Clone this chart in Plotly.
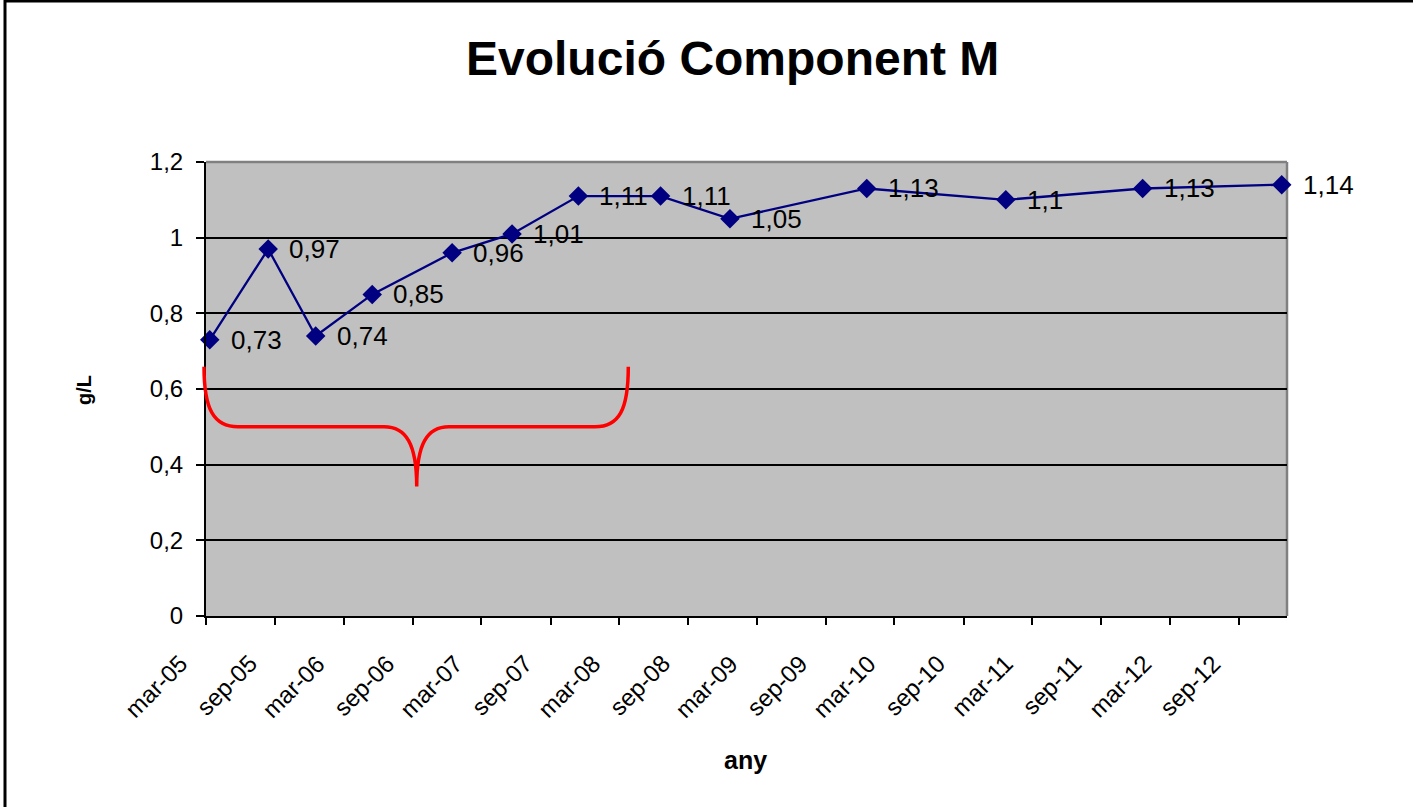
import plotly.graph_objects as go

# ---- data ----
dates = ["2005-03-11", "2005-08-13", "2005-12-17", "2006-05-16", "2006-12-14",
         "2007-05-22", "2007-11-14", "2008-06-19", "2008-12-20", "2009-12-18",
         "2010-12-22", "2011-12-20", "2012-12-23"]
values = [0.73, 0.97, 0.74, 0.85, 0.96, 1.01, 1.11, 1.11, 1.05, 1.13, 1.10, 1.13, 1.14]

tick_dates = ["2005-03-01", "2005-09-01", "2006-03-01", "2006-09-01", "2007-03-01",
              "2007-09-01", "2008-03-01", "2008-09-01", "2009-03-01", "2009-09-01",
              "2010-03-01", "2010-09-01", "2011-03-01", "2011-09-01", "2012-03-01",
              "2012-09-01"]
tick_labels = ["mar-05", "sep-05", "mar-06", "sep-06", "mar-07", "sep-07", "mar-08",
               "sep-08", "mar-09", "sep-09", "mar-10", "sep-10", "mar-11", "sep-11",
               "mar-12", "sep-12"]

y_ticks = [0, 0.2, 0.4, 0.6, 0.8, 1.0, 1.2]

labels = [("%g" % v).replace(".", ",") for v in values]

FONT = "Liberation Sans, Arial, sans-serif"
NAVY = "#000080"

# plot area in reference pixels: x 206..1287, y 162..616
PW, PH = 1081.0, 454.0

def px(xp):
    return (xp - 206) / PW

def py(yp):
    return (616 - yp) / PH

fig = go.Figure()
fig.add_trace(go.Scatter(
    x=dates, y=values, mode="lines+markers",
    line=dict(color=NAVY, width=2.3),
    marker=dict(symbol="diamond", size=15, color=NAVY),
    hoverinfo="skip", showlegend=False, cliponaxis=False,
))

annotations = []
for d, v, t in zip(dates, values, labels):
    annotations.append(dict(
        x=d, y=v, xref="x", yref="y", text=t, showarrow=False,
        xanchor="left", yanchor="middle", xshift=19,
        font=dict(family=FONT, size=26, color="black"),
    ))

# rotated x tick labels, placed like the original (ending left of and below each tick)
for d, t in zip(tick_dates, tick_labels):
    annotations.append(dict(
        x=d, y=0, xref="x", yref="paper", text=t, showarrow=False,
        textangle=-45, xanchor="right", yanchor="top", xshift=-11, yshift=-31,
        font=dict(family=FONT, size=24, color="black"),
    ))

annotations.append(dict(
    text="<b>Evolució Component M</b>", xref="paper", yref="paper",
    x=px(732.5), y=py(58), xanchor="center", yanchor="middle",
    showarrow=False, font=dict(family=FONT, size=48, color="black"),
))
annotations.append(dict(
    text="<b>any</b>", xref="paper", yref="paper",
    x=px(745), y=py(760), xanchor="center", yanchor="middle",
    showarrow=False, font=dict(family=FONT, size=25, color="black"),
))
annotations.append(dict(
    text="<b>g/L</b>", xref="paper", yref="paper", textangle=-90,
    x=px(84), y=py(390), xanchor="center", yanchor="middle",
    showarrow=False, font=dict(family=FONT, size=20, color="black"),
))

# red brace (decoration), x in paper fraction, y in data units
brace = (
    f"M {px(204)},0.659 "
    f"C {px(204)},0.545 {px(214)},0.500 {px(238)},0.500 "
    f"L {px(384)},0.500 "
    f"C {px(406)},0.500 {px(416.7)},0.455 {px(416.7)},0.342 "
    f"C {px(416.7)},0.455 {px(427)},0.500 {px(449)},0.500 "
    f"L {px(595)},0.500 "
    f"C {px(619)},0.500 {px(628.3)},0.545 {px(628.3)},0.659"
)

shapes = [
    dict(type="path", path=brace, xref="paper", yref="y",
         line=dict(color="#FF0000", width=3.5), layer="above"),
    dict(type="line", xref="paper", yref="paper", x0=0, x1=1, y0=1, y1=1,
         line=dict(color="#808080", width=2.5), layer="above"),
    dict(type="line", xref="paper", yref="paper", x0=1, x1=1, y0=0, y1=1,
         line=dict(color="#808080", width=2.5), layer="below"),
    dict(type="rect", xref="paper", yref="paper",
         x0=px(5), x1=px(1425), y0=py(820), y1=py(1),
         line=dict(color="black", width=3), layer="above"),
]

fig.update_layout(
    width=1413, height=807,
    margin=dict(l=206, r=126, t=162, b=191),
    paper_bgcolor="white", plot_bgcolor="#C0C0C0",
    separators=", ",
    font=dict(family=FONT, color="black"),
    annotations=annotations, shapes=shapes,
    xaxis=dict(
        type="date", range=["2005-03-01", "2013-01-06"],
        tickvals=tick_dates, showticklabels=False,
        ticks="outside", ticklen=7, tickwidth=2, tickcolor="black",
        showline=True, linecolor="black", linewidth=2,
        showgrid=False, zeroline=False, fixedrange=True,
    ),
    yaxis=dict(
        range=[0, 1.2], tickvals=y_ticks,
        tickfont=dict(family=FONT, size=24, color="black"),
        ticks="outside", ticklen=8, tickwidth=2, tickcolor="black",
        ticklabelstandoff=8,
        showline=True, linecolor="black", linewidth=2,
        showgrid=True, gridcolor="black", gridwidth=2,
        zeroline=False, fixedrange=True,
    ),
)

# remove the default 8px page margin so the figure fills the window exactly
fig.write_html(
    "out.html",
    config={"displayModeBar": False},
    post_script="document.body.style.margin='0px';document.body.style.overflow='hidden';",
)
